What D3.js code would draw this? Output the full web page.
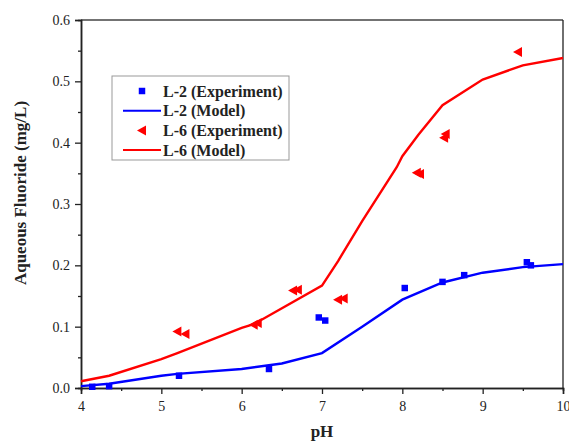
<!DOCTYPE html>
<html>
<head>
<meta charset="utf-8">
<script src="https://cdn.jsdelivr.net/npm/d3@7"></script>
<style>
  body { margin: 0; background: #fff; }
  svg text { font-family: "Liberation Serif", "Times New Roman", serif; fill: #222; }
  .tick text { font-size: 14px; }
  .label { font-size: 17px; font-weight: bold; }
  .legend text { font-size: 16px; font-weight: bold; }
</style>
</head>
<body>
<svg id="chart" width="569" height="444"></svg>
<script>
// L-2 experiment (blue squares)
const l2ExpPH = [4.14, 4.35, 5.22, 6.34, 6.96, 7.04, 8.03, 8.5, 8.77, 9.55, 9.6];
const l2ExpF = [0.002, 0.003, 0.02, 0.031, 0.115, 0.11, 0.163, 0.173, 0.184, 0.205, 0.2];

// L-2 model (blue line)
const l2ModPH = [4, 4.35, 5, 5.2, 6, 6.5, 7, 7.5, 8, 8.5, 9, 9.5, 10];
const l2ModF = [0.003, 0.007, 0.02, 0.023, 0.031, 0.04, 0.057, 0.1, 0.144, 0.172, 0.188, 0.197, 0.202];

// L-6 experiment (red left triangles)
const l6ExpPH = [5.2, 5.3, 6.15, 6.2, 6.64, 6.7, 7.2, 7.27, 8.18, 8.22, 8.52, 8.54, 9.44];
const l6ExpF = [0.092, 0.088, 0.103, 0.106, 0.159, 0.16, 0.144, 0.146, 0.351, 0.349, 0.408, 0.414, 0.548];

// L-6 model (red line)
const l6ModPH = [4, 4.35, 5, 5.2, 6, 6.15, 7, 7.2, 7.5, 7.93, 8, 8.2, 8.5, 9, 9.5, 10];
const l6ModF = [0.011, 0.02, 0.047, 0.057, 0.098, 0.104, 0.167, 0.207, 0.272, 0.36, 0.378, 0.413, 0.461, 0.503, 0.526, 0.538];

const xTicks = [4, 5, 6, 7, 8, 9, 10];
const yTicks = [0.0, 0.1, 0.2, 0.3, 0.4, 0.5, 0.6];

const legendItems = [
  { name: 'L-2 (Experiment)', color: '#0000ff', kind: 'square' },
  { name: 'L-2 (Model)', color: '#0000ff', kind: 'line' },
  { name: 'L-6 (Experiment)', color: '#ff0000', kind: 'triangle' },
  { name: 'L-6 (Model)', color: '#ff0000', kind: 'line' }
];

const zip = (xs, ys) => xs.map((v, i) => ({ x: v, y: ys[i] }));

const svg = d3.select('#chart');
const pLeft = 81, pRight = 563, pTop = 20, pBottom = 388;

const x = d3.scaleLinear().domain([4, 10]).range([pLeft, pRight]);
const y = d3.scaleLinear().domain([0, 0.6]).range([pBottom, pTop]);

// frame
svg.append('line')
  .attr('x1', pLeft).attr('x2', pRight).attr('y1', pTop).attr('y2', pTop)
  .attr('stroke', '#444').attr('stroke-width', 1.3);
svg.append('line')
  .attr('x1', pRight).attr('x2', pRight).attr('y1', pTop).attr('y2', pBottom)
  .attr('stroke', '#222').attr('stroke-width', 1.3);

// minor ticks
const xMinor = d3.axisBottom(x).tickValues(d3.range(4.5, 10, 1)).tickSize(3).tickFormat('');
const yMinor = d3.axisLeft(y).tickValues(d3.range(0.05, 0.6, 0.1)).tickSize(3).tickFormat('');
svg.append('g').attr('transform', `translate(0,${pBottom})`).call(xMinor);
svg.append('g').attr('transform', `translate(${pLeft},0)`).call(yMinor);

svg.append('g')
  .attr('transform', `translate(0,${pBottom})`)
  .call(d3.axisBottom(x).tickValues(xTicks).tickSize(6).tickPadding(7).tickFormat(d3.format('d')));
svg.append('g')
  .attr('transform', `translate(${pLeft},0)`)
  .call(d3.axisLeft(y).tickValues(yTicks).tickSize(6).tickPadding(5).tickFormat(d3.format('.1f')));

svg.selectAll('.domain').attr('stroke', '#222').attr('stroke-width', 1.5);
svg.selectAll('.tick line').attr('stroke', '#222').attr('stroke-width', 1.3);

const line = d3.line().x(d => x(d.x)).y(d => y(d.y));

svg.append('path')
  .datum(zip(l2ModPH, l2ModF))
  .attr('d', line).attr('fill', 'none')
  .attr('stroke', '#0000ff').attr('stroke-width', 2.4);
svg.append('path')
  .datum(zip(l6ModPH, l6ModF))
  .attr('d', line).attr('fill', 'none')
  .attr('stroke', '#ff0000').attr('stroke-width', 2.4);

const square = d3.symbol().type(d3.symbolSquare).size(42);
const tri = 'M-5,0L4,-5L4,5Z';

svg.append('g').selectAll('path')
  .data(zip(l2ExpPH, l2ExpF))
  .join('path')
  .attr('d', square)
  .attr('transform', d => `translate(${x(d.x)},${y(d.y)})`)
  .attr('fill', '#0000ff');

svg.append('g').selectAll('path')
  .data(zip(l6ExpPH, l6ExpF))
  .join('path')
  .attr('d', tri)
  .attr('transform', d => `translate(${x(d.x)},${y(d.y)})`)
  .attr('fill', '#ff0000');

// legend
const legend = svg.append('g').attr('class', 'legend');
legend.append('rect')
  .attr('x', 112).attr('y', 76).attr('width', 177).attr('height', 84)
  .attr('fill', '#fff').attr('stroke', '#999').attr('stroke-width', 1);

legendItems.forEach((d, i) => {
  const cy = 91 + i * 19.7;
  if (d.kind === 'line') {
    legend.append('line')
      .attr('x1', 123).attr('x2', 161).attr('y1', cy).attr('y2', cy)
      .attr('stroke', d.color).attr('stroke-width', 2);
  } else if (d.kind === 'square') {
    legend.append('path').attr('d', square)
      .attr('transform', `translate(142,${cy})`).attr('fill', d.color);
  } else {
    legend.append('path').attr('d', tri)
      .attr('transform', `translate(142,${cy})`).attr('fill', d.color);
  }
  legend.append('text')
    .attr('x', 163).attr('y', cy + 5.5)
    .text(d.name);
});

svg.append('text')
  .attr('class', 'label')
  .attr('transform', 'translate(26,193) rotate(-90)')
  .attr('text-anchor', 'middle')
  .text('Aqueous Fluoride (mg/L)');

svg.append('text')
  .attr('class', 'label')
  .attr('x', (pLeft + pRight) / 2)
  .attr('y', 437)
  .attr('text-anchor', 'middle')
  .text('pH');
</script>
</body>
</html>
